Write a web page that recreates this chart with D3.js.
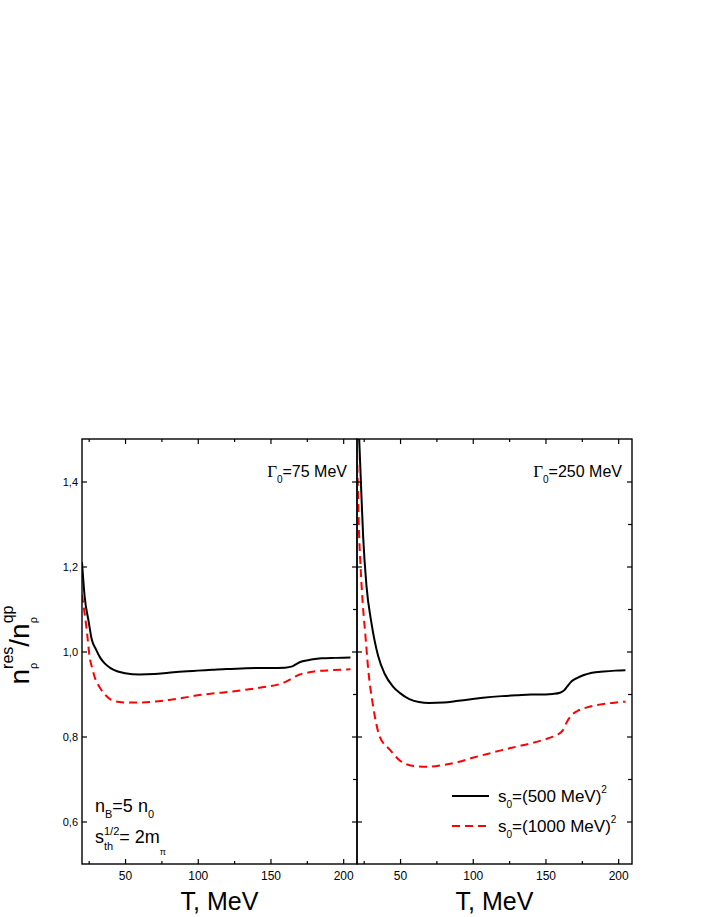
<!DOCTYPE html>
<html>
<head>
<meta charset="utf-8">
<script src="https://cdn.jsdelivr.net/npm/d3@7"></script>
<style>
	body { margin: 0; background: #fff; }
	svg { display: block; font-family: "Liberation Sans", Arial, sans-serif; }
</style>
</head>
<body>
<div id="chart"></div>
<script>
// Data: [T in MeV, n_res / n_qp]
const g75Solid = [
	[20.4, 1.21], [22.2, 1.13], [25, 1.07], [27, 1.03], [30, 1.005], [33, 0.985],
	[36, 0.972], [40, 0.961], [45, 0.953], [50, 0.949], [60, 0.946], [70, 0.947],
	[80, 0.950], [90, 0.953], [100, 0.955], [110, 0.957], [120, 0.959], [130, 0.960],
	[140, 0.961], [150, 0.961], [160, 0.962], [165, 0.965], [168, 0.971], [172, 0.977],
	[178, 0.981], [185, 0.984], [195, 0.985], [205, 0.986]
];
const g75Dashed = [
	[20.4, 1.133], [22.2, 1.09], [23.9, 1.043], [25.6, 0.988], [27.5, 0.96], [29, 0.941],
	[31, 0.925], [33.6, 0.91], [37, 0.896], [40.5, 0.886], [45, 0.882], [50, 0.880],
	[60, 0.880], [70, 0.882], [80, 0.886], [90, 0.891], [100, 0.897], [110, 0.901],
	[124, 0.906], [135, 0.911], [147, 0.917], [155, 0.922], [160, 0.928], [165, 0.937],
	[170, 0.946], [175, 0.950], [180, 0.953], [192, 0.956], [205, 0.958]
];
const g250Solid = [
	[21.2, 1.56], [23, 1.406], [24.6, 1.272], [26.9, 1.155], [30.3, 1.068], [34.9, 0.99],
	[39.5, 0.947], [45, 0.918], [50, 0.902], [56.4, 0.888], [63, 0.881], [70, 0.879],
	[80, 0.880], [90, 0.884], [100, 0.888], [107, 0.891], [120, 0.895], [130, 0.897],
	[140, 0.899], [150, 0.899], [155, 0.900], [160, 0.903], [163, 0.909], [165, 0.918],
	[168, 0.930], [172, 0.938], [176, 0.944], [182, 0.950], [190, 0.953], [198, 0.955],
	[205, 0.956]
];
const g250Dashed = [
	[20.2, 1.50], [20.9, 1.404], [21.6, 1.30], [22.7, 1.21], [24.3, 1.115], [26.2, 1.037],
	[28, 0.962], [31.5, 0.871], [36, 0.80], [43, 0.769], [50, 0.743], [55, 0.734],
	[61, 0.730], [70, 0.729], [80, 0.733], [90, 0.740], [100, 0.750], [110, 0.759],
	[120, 0.768], [130, 0.776], [140, 0.784], [152, 0.796], [158, 0.804], [162, 0.815],
	[165, 0.836], [168, 0.850], [172, 0.860], [178, 0.868], [187, 0.875], [196, 0.879],
	[205, 0.882]
];

const xMajorTicks = [50, 100, 150, 200];
const xMinorTicks = [25, 75, 125, 175];
const yMajorTicks = [0.6, 0.8, 1.0, 1.2, 1.4];
const yMinorTicks = [0.7, 0.9, 1.1, 1.3];
const yTickLabels = ["0,6", "0,8", "1,0", "1,2", "1,4"];

const panels = [
	{ gamma: "75", solid: g75Solid, dashed: g75Dashed, x0: 82, x1: 357, showYLabels: true },
	{ gamma: "250", solid: g250Solid, dashed: g250Dashed, x0: 357, x1: 632, showYLabels: false }
];

const legendItems = [
	{ label: "500", dash: null, color: "#000" },
	{ label: "1000", dash: "8,5", color: "#ff0000" }
];

// Layout
const width = 708, height = 917;
const plotTop = 439, plotBottom = 864;

const svg = d3.select("#chart").append("svg")
	.attr("width", width)
	.attr("height", height);

const y = d3.scaleLinear().domain([0.5, 1.5]).range([plotBottom, plotTop]);

// Draw text pieces in sequence, with sub / superscripts; stacked pieces share an x
function richText(g, parts, anchor) {
	const grp = g.append("g");
	let cursor = 0, prevStart = 0, prevW = 0;
	parts.forEach(p => {
		const t = grp.append("text")
			.attr("y", p.dy || 0)
			.style("font-size", p.size + "px")
			.style("font-family", p.serif ? "'Liberation Serif', 'Times New Roman', serif" : null)
			.text(p.t);
		const w = t.node().getComputedTextLength();
		if (p.stack) {
			t.attr("x", prevStart);
			cursor = prevStart + Math.max(prevW, w);
			prevW = Math.max(prevW, w);
		} else {
			t.attr("x", cursor);
			prevStart = cursor;
			prevW = w;
			cursor += w;
		}
	});
	const shift = anchor === "end" ? -cursor : anchor === "middle" ? -cursor / 2 : 0;
	grp.attr("transform", `translate(${shift},0)`);
	return grp;
}

panels.forEach((pan, i) => {
	const x = d3.scaleLinear().domain([20.4, 209.5]).range([pan.x0, pan.x1]);
	const g = svg.append("g");

	const clipId = "clip" + i;
	svg.append("defs").append("clipPath").attr("id", clipId)
		.append("rect")
		.attr("x", pan.x0).attr("y", plotTop)
		.attr("width", pan.x1 - pan.x0).attr("height", plotBottom - plotTop);

	// curves
	const line = d3.line()
		.x(d => x(d[0]))
		.y(d => y(d[1]))
		.curve(d3.curveMonotoneX);

	g.append("path")
		.datum(pan.dashed)
		.attr("clip-path", `url(#${clipId})`)
		.attr("fill", "none")
		.attr("stroke", "#ff0000")
		.attr("stroke-width", 2)
		.attr("stroke-dasharray", "8,5")
		.attr("d", line);

	g.append("path")
		.datum(pan.solid)
		.attr("clip-path", `url(#${clipId})`)
		.attr("fill", "none")
		.attr("stroke", "#000")
		.attr("stroke-width", 2)
		.attr("d", line);

	// bottom axis, ticks inward
	const bAxis = g.append("g")
		.attr("transform", `translate(0,${plotBottom})`)
		.call(d3.axisBottom(x).tickValues(xMajorTicks).tickSize(-5).tickPadding(7));
	bAxis.style("font-size", "12px").style("font-family", null);
	g.append("g")
		.attr("transform", `translate(0,${plotBottom})`)
		.call(d3.axisBottom(x).tickValues(xMinorTicks).tickSize(-3).tickFormat(""));

	// top axis
	g.append("g")
		.attr("transform", `translate(0,${plotTop})`)
		.call(d3.axisTop(x).tickValues(xMajorTicks).tickSize(-5).tickFormat(""));
	g.append("g")
		.attr("transform", `translate(0,${plotTop})`)
		.call(d3.axisTop(x).tickValues(xMinorTicks).tickSize(-3).tickFormat(""));

	// left axis
	const lAxis = g.append("g")
		.attr("transform", `translate(${pan.x0},0)`)
		.call(d3.axisLeft(y).tickValues(yMajorTicks).tickSize(-5).tickPadding(4)
			.tickFormat((d, k) => pan.showYLabels ? yTickLabels[k] : ""));
	lAxis.style("font-size", "11px").style("font-family", null);

	// right axis
	g.append("g")
		.attr("transform", `translate(${pan.x1},0)`)
		.call(d3.axisRight(y).tickValues(yMajorTicks).tickSize(-5).tickFormat(""));
	g.append("g")
		.attr("transform", `translate(${pan.x1},0)`)
		.call(d3.axisRight(y).tickValues(yMinorTicks).tickSize(-4).tickFormat(""));

	g.selectAll(".domain").remove();
	g.selectAll(".tick line").attr("stroke", "#000").attr("stroke-width", 1.2);
	g.selectAll(".tick text").attr("fill", "#000");

	// frame
	g.append("rect")
		.attr("x", pan.x0).attr("y", plotTop)
		.attr("width", pan.x1 - pan.x0).attr("height", plotBottom - plotTop)
		.attr("fill", "none").attr("stroke", "#000").attr("stroke-width", 1.4);

	// x title
	svg.append("text")
		.attr("x", (pan.x0 + pan.x1) / 2)
		.attr("y", 910)
		.attr("text-anchor", "middle")
		.style("font-size", "25px")
		.text("T, MeV");

	// Gamma label
	const gl = svg.append("g").attr("transform", `translate(${pan.x1 - 10},477)`);
	richText(gl, [
		{ t: "\u0393", size: 17, serif: true },
		{ t: "0", size: 10, dy: 6 },
		{ t: "=" + pan.gamma + " MeV", size: 16 }
	], "end");
});

// y title
const yl = svg.append("g").attr("transform", "translate(29,645) rotate(-90)");
richText(yl, [
	{ t: "n", size: 28 },
	{ t: "\u03c1", size: 11, dy: 8 },
	{ t: "res", size: 16, dy: -16, stack: true },
	{ t: "/n", size: 28 },
	{ t: "\u03c1", size: 11, dy: 8 },
	{ t: "qp", size: 16, dy: -16, stack: true }
], "middle");

// density annotations
const an1 = svg.append("g").attr("transform", "translate(95,812)");
richText(an1, [
	{ t: "n", size: 18 },
	{ t: "B", size: 11, dy: 6 },
	{ t: "=5 n", size: 18 },
	{ t: "0", size: 11, dy: 6 }
], "start");
const an2 = svg.append("g").attr("transform", "translate(95,843)");
richText(an2, [
	{ t: "s", size: 18 },
	{ t: "th", size: 11, dy: 7 },
	{ t: "1/2", size: 11, dy: -8, stack: true },
	{ t: "= 2m", size: 18 },
	{ t: "\u03c0", size: 9, dy: 12 }
], "start");

// legend
legendItems.forEach((d, k) => {
	const ly = 796 + k * 30;
	svg.append("line")
		.attr("x1", 452).attr("x2", 489)
		.attr("y1", ly).attr("y2", ly)
		.attr("stroke", d.color)
		.attr("stroke-width", 2)
		.attr("stroke-dasharray", d.dash);
	const lg = svg.append("g").attr("transform", `translate(498,${ly + 6})`);
	richText(lg, [
		{ t: "s", size: 17 },
		{ t: "0", size: 10, dy: 6 },
		{ t: "=(" + d.label + " MeV)", size: 17 },
		{ t: "2", size: 10, dy: -9 }
	], "start");
});
</script>
</body>
</html>
